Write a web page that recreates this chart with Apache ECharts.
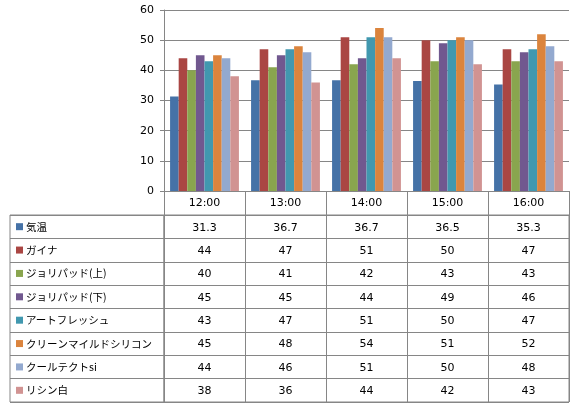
<!DOCTYPE html>
<html><head><meta charset="utf-8">
<script src="https://cdn.jsdelivr.net/npm/echarts@6/dist/echarts.min.js"></script>
<style>html,body{margin:0;padding:0;background:#fff}#c{width:579px;height:409px}</style>
</head><body><div id="c"></div>
<script>
const categories = ['12:00','13:00','14:00','15:00','16:00'];
const seriesNames = ['気温','ガイナ','ジョリパッド(上)','ジョリパッド(下)','アートフレッシュ','クリーンマイルドシリコン','クールテクトsi','リシン白'];
const kion = [31.3, 36.7, 36.7, 36.5, 35.3];
const gaina = [44, 47, 51, 50, 47];
const jolyUp = [40, 41, 42, 43, 43];
const jolyDown = [45, 45, 44, 49, 46];
const artFresh = [43, 47, 51, 50, 47];
const cleanMild = [45, 48, 54, 51, 52];
const coolTect = [44, 46, 51, 50, 48];
const lithinWhite = [38, 36, 44, 42, 43];
const yTicks = [0, 10, 20, 30, 40, 50, 60];
const colors = ['#4572A7','#AA4643','#89A54E','#71588F','#4198AF','#DB843D','#93A9CF','#D19392'];

const allValues = [kion, gaina, jolyUp, jolyDown, artFresh, cleanMild, coolTect, lithinWhite];
const gray = '#868686';
const numFont = 'DejaVu Sans';
const cjkFont = '"Noto Sans CJK JP"';

const barSeries = allValues.map((vals, i) => ({
  name: seriesNames[i], type: 'bar', xAxisIndex: 0, yAxisIndex: 0,
  data: vals, barGap: '0%', barCategoryGap: '15%',
  itemStyle: { color: colors[i] }, silent: true
}));

const cellData = [];
allValues.forEach((vals, r) => vals.forEach((v, c) => cellData.push([c, r, v])));
const legendData = seriesNames.map((n, r) => [0, r, n]);

const chart = echarts.init(document.getElementById('c'), null, { renderer: 'canvas' });
chart.setOption({
  animation: false,
  backgroundColor: '#fff',
  grid: [
    { left: 164, right: 10, top: 10, height: 181 },
    { left: 164, right: 10, top: 215, height: 187, show: true, borderColor: gray, borderWidth: 1 },
    { left: 10, width: 154, top: 215, height: 187, show: true, borderColor: gray, borderWidth: 1 }
  ],
  xAxis: [
    { type: 'category', gridIndex: 0, data: categories,
      axisLine: { lineStyle: { color: gray } },
      axisTick: { show: true, length: 24, lineStyle: { color: gray } },
      axisLabel: { color: '#000', fontFamily: numFont, fontSize: 11, margin: 7 } },
    { type: 'category', gridIndex: 1, data: categories,
      axisLine: { show: false }, axisTick: { show: false }, axisLabel: { show: false },
      splitLine: { show: true, interval: 0, lineStyle: { color: gray } } },
    { type: 'value', gridIndex: 2, min: 0, max: 1, show: false }
  ],
  yAxis: [
    { type: 'value', gridIndex: 0, min: yTicks[0], max: yTicks[yTicks.length-1], interval: 10,
      axisLine: { show: true, lineStyle: { color: gray } },
      axisTick: { show: true, length: 4, lineStyle: { color: gray } },
      axisLabel: { color: '#000', fontFamily: numFont, fontSize: 11, margin: 10 },
      splitLine: { show: true, lineStyle: { color: gray } } },
    { type: 'category', gridIndex: 1, data: seriesNames, inverse: true,
      axisLine: { show: false }, axisTick: { show: false }, axisLabel: { show: false },
      splitLine: { show: true, interval: 0, lineStyle: { color: gray } } },
    { type: 'category', gridIndex: 2, data: seriesNames, inverse: true,
      axisLine: { show: false }, axisTick: { show: false }, axisLabel: { show: false },
      splitLine: { show: true, interval: 0, lineStyle: { color: gray } } }
  ],
  series: barSeries.concat([
    { type: 'custom', xAxisIndex: 1, yAxisIndex: 1, data: cellData, silent: true,
      renderItem: function (params, api) {
        const p = api.coord([api.value(0), api.value(1)]);
        return { type: 'text', x: p[0], y: p[1] + 1,
          style: { text: String(cellData[params.dataIndex][2]), textAlign: 'center', textVerticalAlign: 'middle',
            fill: '#000', font: '11px ' + numFont } };
      } },
    { type: 'custom', xAxisIndex: 2, yAxisIndex: 2, data: legendData, silent: true,
      renderItem: function (params, api) {
        const p = api.coord([0, api.value(1)]);
        const r = legendData[params.dataIndex][1];
        return { type: 'group', children: [
          { type: 'rect', shape: { x: p[0] + 6, y: p[1] - 3.5, width: 7, height: 7 }, style: { fill: colors[r] } },
          { type: 'text', x: p[0] + 16, y: p[1], style: { text: seriesNames[r], textAlign: 'left', textVerticalAlign: 'middle',
            fill: '#000', font: '10.5px ' + cjkFont } }
        ] };
      } }
  ])
});
</script></body></html>
